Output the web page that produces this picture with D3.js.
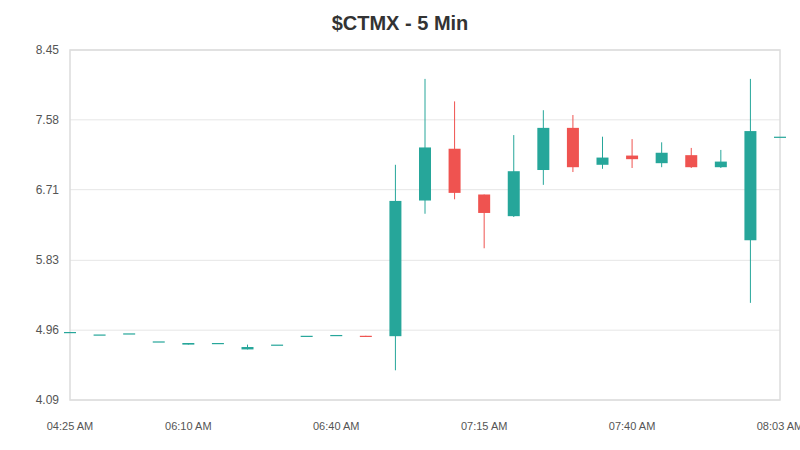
<!DOCTYPE html>
<html>
<head>
<meta charset="UTF-8">
<title>$CTMX - 5 Min</title>
<script src="https://cdn.jsdelivr.net/npm/d3@7"></script>
<style>
  body { margin: 0; background: #fff; }
  text { font-family: "Liberation Sans", Arial, sans-serif; }
</style>
</head>
<body>
<svg id="chart" width="800" height="450"></svg>
<script>
var times = ["04:25 AM","04:50 AM","05:20 AM","05:45 AM","06:10 AM","06:15 AM","06:20 AM","06:25 AM","06:35 AM",
             "06:40 AM","06:45 AM","06:50 AM","06:55 AM","07:00 AM","07:15 AM","07:20 AM","07:25 AM","07:30 AM",
             "07:35 AM","07:40 AM","07:45 AM","07:50 AM","07:55 AM","08:00 AM","08:03 AM"];
var opens  = [4.937,4.906,4.92,4.82,4.78,4.80,4.72,4.78,4.89,4.90,4.89,4.885,6.575,7.22,6.65,6.38,6.955,7.48,7.02,7.135,7.04,7.14,6.99,6.08,7.37];
var closes = [4.937,4.906,4.92,4.82,4.80,4.80,4.75,4.78,4.89,4.90,4.875,6.57,7.236,6.67,6.42,6.94,7.48,6.99,7.11,7.09,7.17,6.99,7.06,7.44,7.37];
var highs  = [4.937,4.906,4.92,4.82,4.80,4.80,4.78,4.78,4.89,4.90,4.89,7.02,8.09,7.81,6.65,7.39,7.70,7.64,7.37,7.34,7.30,7.23,7.205,8.09,7.37];
var lows   = [4.937,4.906,4.92,4.82,4.78,4.80,4.72,4.78,4.89,4.90,4.875,4.46,6.41,6.59,5.98,6.37,6.77,6.93,6.97,6.98,6.99,6.98,6.98,5.30,7.37];
var yTicks = [4.09,4.96,5.83,6.71,7.58,8.45];
var tickIdx = [0,4,9,14,19,24];

var svg = d3.select("#chart");
var plotLeft = 70, plotRight = 780, plotTop = 50, plotBottom = 400;

var x = d3.scalePoint().domain(times).range([plotLeft, plotRight]);
var y = d3.scaleLinear().domain([4.09, 8.45]).range([plotBottom, plotTop]);

svg.append("text").attr("x", 400).attr("y", 30).attr("text-anchor", "middle")
   .style("font-size", "20px").style("font-weight", "bold").style("fill", "#333")
   .text("$CTMX - 5 Min");

svg.selectAll(".grid").data(yTicks).enter().append("line")
   .attr("x1", plotLeft).attr("x2", plotRight)
   .attr("y1", function(d){return y(d);}).attr("y2", function(d){return y(d);})
   .attr("stroke", "#e6e6e6");
svg.append("rect").attr("x", plotLeft).attr("y", plotTop)
   .attr("width", plotRight-plotLeft).attr("height", plotBottom-plotTop)
   .attr("fill", "none").attr("stroke", "#dcdcdc").attr("stroke-width", 1.5);

svg.selectAll(".ylab").data(yTicks).enter().append("text")
   .attr("x", 59).attr("y", function(d){return y(d) + 4;}).attr("text-anchor", "end")
   .style("font-size", "12px").style("fill", "#555")
   .text(function(d){return d.toFixed(2);});

svg.selectAll(".xlab").data(tickIdx).enter().append("text")
   .attr("x", function(i){return x(times[i]);}).attr("y", 430).attr("text-anchor", "middle")
   .style("font-size", "11px").style("fill", "#555")
   .text(function(i){return times[i];});

var data = times.map(function(t, i){
    return {t: t, o: opens[i], c: closes[i], h: highs[i], l: lows[i]};
});
var bw = 12;
var g = svg.selectAll(".candle").data(data).enter().append("g");
g.append("line")
 .attr("x1", function(d){return x(d.t);}).attr("x2", function(d){return x(d.t);})
 .attr("y1", function(d){return y(d.h);}).attr("y2", function(d){return y(d.l);})
 .attr("stroke", function(d){return d.c < d.o ? "#ef5350" : "#26a69a";});
g.append("rect")
 .attr("x", function(d){return x(d.t) - bw/2;}).attr("width", bw)
 .attr("y", function(d){return y(Math.max(d.o, d.c));})
 .attr("height", function(d){return Math.max(1.2, Math.abs(y(d.o) - y(d.c)));})
 .attr("fill", function(d){return d.c < d.o ? "#ef5350" : "#26a69a";});
</script>
</body>
</html>
